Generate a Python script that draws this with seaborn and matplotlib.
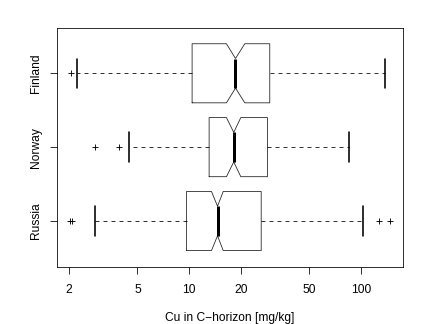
import numpy as np
import pandas as pd
import matplotlib
matplotlib.use("Agg")
import matplotlib.pyplot as plt
from matplotlib.ticker import FixedLocator, FixedFormatter, NullLocator
import seaborn as sns

# ---- data ----
groups = ["Russia", "Norway", "Finland"]
q1 = [9.66, 13.08, 10.41]
median = [14.64, 18.2, 18.63]
q3 = [26.3, 28.6, 29.5]
notch_lo = [13.5, 16.5, 16.5]
notch_hi = [15.8, 20.0, 21.1]
whisker_lo = [2.82, 4.44, 2.23]
whisker_hi = [103.1, 85.5, 138.0]
outliers_russia = [2.02, 2.09, 127.8, 147.5]
outliers_norway = [2.82, 3.91]
outliers_finland = [2.04]
x_ticks = [2, 5, 10, 20, 50, 100]
x_tick_labels = ["2", "5", "10", "20", "50", "100"]
x_label = "Cu in C\u2212horizon [mg/kg]"

sns.set_theme(style="ticks")
plt.rcParams["font.family"] = ["Liberation Sans", "DejaVu Sans"]
plt.rcParams["font.size"] = 12

fig = plt.figure(figsize=(6, 4.5), dpi=72)
ax = fig.add_axes([57 / 432, 1 - 266.8 / 324, (402.5 - 57) / 432, (266.8 - 27.5) / 324])

stats = []
for i, g in enumerate(groups):
    stats.append(dict(label=g, q1=q1[i], med=median[i], q3=q3[i],
                      cilo=notch_lo[i], cihi=notch_hi[i],
                      whislo=whisker_lo[i], whishi=whisker_hi[i], fliers=[]))

positions = [1, 2, 3]
ax.bxp(stats, positions=positions, widths=0.8, orientation="horizontal",
       shownotches=True, showfliers=False, patch_artist=False,
       boxprops=dict(color="#222222", linewidth=0.8),
       medianprops=dict(color="black", linewidth=3, solid_capstyle="butt"),
       whiskerprops=dict(color="black", linewidth=0.8, linestyle=(0, (5, 5))),
       capprops=dict(color="black", linewidth=1.6),
       capwidths=0.4)

out_df = pd.DataFrame({
    "value": outliers_russia + outliers_norway + outliers_finland,
    "pos": [1] * len(outliers_russia) + [2] * len(outliers_norway) + [3] * len(outliers_finland),
})
sns.scatterplot(data=out_df, x="value", y="pos", marker="+", s=45, color="black",
                linewidth=0.9, ax=ax, legend=False, zorder=3)

ax.set_xscale("log")
ax.set_xlim(1.70, 175.0)
ax.set_ylim(0.38, 3.62)
ax.xaxis.set_major_locator(FixedLocator(x_ticks))
ax.xaxis.set_major_formatter(FixedFormatter(x_tick_labels))
ax.xaxis.set_minor_locator(NullLocator())
ax.set_yticks(positions)
ax.set_yticklabels(groups, rotation=90, va="center")
ax.tick_params(axis="both", direction="out", length=7, width=0.8, color="black",
               labelsize=12, labelcolor="black")
ax.tick_params(axis="x", pad=10)
ax.tick_params(axis="y", pad=8)
for s in ax.spines.values():
    s.set_color("black")
    s.set_linewidth(0.8)
    s.set_visible(True)
ax.set_xlabel(x_label, fontsize=12, labelpad=16, color="black")
ax.set_ylabel("")
ax.grid(False)

fig.savefig("out.png", dpi=72, facecolor="white")
